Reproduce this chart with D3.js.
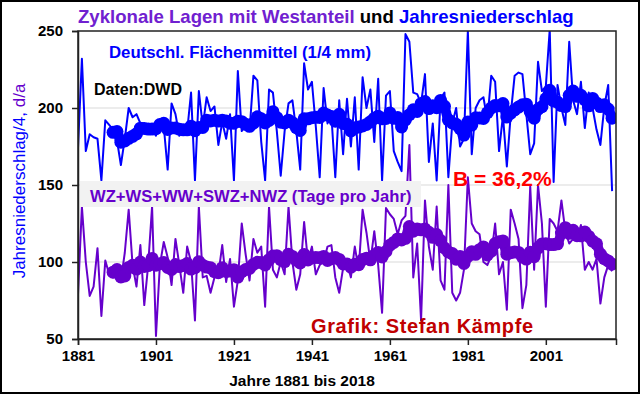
<!DOCTYPE html>
<html lang="de">
<head>
<meta charset="UTF-8">
<title>Zyklonale Lagen mit Westanteil und Jahresniederschlag</title>
<script src="https://d3js.org/d3.v7.min.js"></script>
<style>
    body {
        margin: 0;
        padding: 0;
        background: #fff;
    }
    svg {
        display: block;
        font-family: 'Liberation Sans', Arial, sans-serif;
    }
    .tick text {
        font-size: 15px;
        font-weight: bold;
        fill: #000;
    }
</style>
</head>
<body>
<svg width="640" height="394"></svg>
<script>
// Jahre 1881..2018
const years = d3.range(1881, 2019);

// Deutschland-Flaechenmittel Niederschlag / 4 (mm)
const niederschlag = [
    174, 232, 172, 183, 181, 180, 153, 192, 189, 186,
    179, 163, 180, 200, 194, 196, 190, 190, 185, 186,
    182, 190, 188, 160, 203, 196, 182, 186, 185, 210,
    153, 211, 188, 207, 198, 201, 176, 191, 180, 196,
    153, 224, 185, 190, 185, 221, 218, 178, 153, 212,
    210, 185, 156, 185, 203, 205, 185, 160, 229, 212,
    217, 188, 155, 213, 190, 195, 155, 205, 170, 206,
    175, 207, 160, 220, 200, 212, 178, 219, 153, 208,
    211, 172, 165, 159, 248, 243, 210, 209, 203, 222,
    165, 190, 153, 206, 210, 155, 190, 200, 175, 180,
    250, 170, 200, 205, 207, 192, 221, 217, 172, 195,
    162, 196, 221, 223, 222, 196, 170, 177, 230, 211,
    214, 251, 152, 215, 200, 189, 243, 205, 196, 217,
    187, 210, 200, 186, 176, 201, 215, 146
];

// WZ+WS+WW+SWZ+NWZ, Tage pro Jahr
const westlagen = [
    79, 136, 100, 78, 84, 109, 65, 101, 92, 90,
    96, 88, 106, 134, 98, 84, 111, 72, 98, 136,
    52, 98, 113, 103, 85, 115, 98, 80, 110, 100,
    62, 136, 90, 91, 80, 90, 92, 111, 87, 102,
    71, 88, 125, 105, 88, 115, 106, 110, 71, 136,
    95, 90, 100, 92, 136, 100, 82, 92, 126, 100,
    110, 92, 98, 100, 110, 111, 90, 80, 96, 100,
    90, 110, 95, 134, 119, 100, 120, 98, 67, 135,
    131, 128, 118, 127, 130, 176, 90, 112, 62, 140,
    110, 95, 136, 88, 82, 150, 80, 75, 80, 95,
    155, 125, 120, 118, 100, 98, 104, 125, 92, 100,
    69, 134, 125, 115, 70, 85, 149, 95, 150, 125,
    71, 128, 125, 120, 140, 120, 112, 115, 115, 124,
    95, 100, 95, 102, 73, 90, 98, 94
];

const yTicks = [50, 100, 150, 200, 250];
const gridValues = [100, 150, 200];
const xTicks = [1881, 1901, 1921, 1941, 1961, 1981, 2001];

const blue = "#0000ff";
const purple = "#6600cc";

const svg = d3.select("svg");
const width = +svg.attr("width");
const height = +svg.attr("height");

const plot = { left: 78, right: 616, top: 31, bottom: 339 };

const xScale = d3.scaleLinear()
                 .domain([1881, 2019])
                 .range([plot.left, plot.right]);

const yScale = d3.scaleLinear()
                 .domain([50, 250])
                 .range([plot.bottom, plot.top]);

// gleitendes 10-jaehriges Mittel (wie im Original ab 1890)
function movingAverage(values, n) {
    return values.map((v, i) => i < n - 1 ? null : d3.mean(values.slice(i - n + 1, i + 1)));
}

svg.append("rect")
   .attr("width", width).attr("height", height)
   .attr("fill", "#fff");

svg.append("clipPath").attr("id", "plotclip")
   .append("rect")
   .attr("x", plot.left).attr("y", plot.top)
   .attr("width", plot.right - plot.left).attr("height", plot.bottom - plot.top);

// gridlines
svg.selectAll(".grid")
   .data(gridValues)
   .enter()
   .append("line")
   .attr("x1", plot.left).attr("x2", plot.right)
   .attr("y1", d => yScale(d)).attr("y2", d => yScale(d))
   .attr("stroke", "#d9d9d9")
   .attr("stroke-width", 1);

const lines = svg.append("g").attr("clip-path", "url(#plotclip)");

const rawLine = d3.line()
                  .x((d, i) => xScale(years[i]))
                  .y(d => yScale(d));

const smoothLine = d3.line()
                     .defined(d => d != null)
                     .x((d, i) => xScale(years[i]))
                     .y(d => yScale(d))
                     .curve(d3.curveMonotoneX);

function drawSeries(values, color) {
    lines.append("path")
         .attr("d", rawLine(values))
         .attr("fill", "none")
         .attr("stroke", color)
         .attr("stroke-width", 2)
         .attr("stroke-linejoin", "round");

    const avg = movingAverage(values, 10);
    lines.append("path")
         .attr("d", smoothLine(avg))
         .attr("fill", "none")
         .attr("stroke", color)
         .attr("stroke-width", 10)
         .attr("stroke-linecap", "round")
         .attr("stroke-linejoin", "round");

    lines.selectAll(null)
         .data(avg.map((v, i) => ({ year: years[i], v: v })).filter(d => d.v != null))
         .enter()
         .append("circle")
         .attr("cx", d => xScale(d.year))
         .attr("cy", d => yScale(d.v))
         .attr("r", 6.5)
         .attr("fill", color);
}

drawSeries(niederschlag, blue);
drawSeries(westlagen, purple);

// plot frame
svg.append("rect")
   .attr("x", plot.left).attr("y", plot.top)
   .attr("width", plot.right - plot.left).attr("height", plot.bottom - plot.top)
   .attr("fill", "none")
   .attr("stroke", "#222")
   .attr("stroke-width", 1.5);

// axes
const yAxis = svg.append("g")
   .attr("transform", `translate(${plot.left},0)`)
   .call(d3.axisLeft(yScale).tickValues(yTicks).tickSize(6).tickPadding(9));

const xAxis = svg.append("g")
   .attr("transform", `translate(0,${plot.bottom})`)
   .call(d3.axisBottom(xScale).tickValues(xTicks).tickFormat(d3.format("d")).tickSize(6).tickPadding(5));

[yAxis, xAxis].forEach(a => {
    a.select(".domain").attr("stroke", "#222").attr("stroke-width", 1.5);
    a.selectAll(".tick line").attr("stroke", "#222").attr("stroke-width", 1.5);
});

// label box
svg.append("rect")
   .attr("x", 80).attr("y", 181)
   .attr("width", 341).attr("height", 26)
   .attr("fill", "#f2f2f2");

svg.append("text")
   .attr("x", 90).attr("y", 202)
   .attr("font-size", 16.6).attr("font-weight", "bold")
   .attr("fill", purple)
   .text("WZ+WS+WW+SWZ+NWZ (Tage pro Jahr)");

svg.append("text")
   .attr("x", 109).attr("y", 58)
   .attr("font-size", 16.8).attr("font-weight", "bold")
   .attr("fill", blue)
   .text("Deutschl. Flächenmittel (1/4 mm)");

svg.append("text")
   .attr("x", 94).attr("y", 95)
   .attr("font-size", 16).attr("font-weight", "bold")
   .attr("fill", "#000")
   .text("Daten:DWD");

svg.append("text")
   .attr("x", 453).attr("y", 186)
   .attr("font-size", 21).attr("font-weight", "bold")
   .attr("fill", "#ff0000")
   .text("B = 36,2%");

svg.append("text")
   .attr("x", 311).attr("y", 333)
   .attr("font-size", 20).attr("font-weight", "bold")
   .attr("letter-spacing", 0.6)
   .attr("fill", "#c00000")
   .text("Grafik: Stefan Kämpfe");

// title
const title = svg.append("text")
   .attr("x", 78).attr("y", 23)
   .attr("font-size", 18.6).attr("font-weight", "bold");
title.append("tspan").attr("fill", "#7020d0").text("Zyklonale Lagen mit Westanteil");
title.append("tspan").attr("fill", "#000").text(" und ");
title.append("tspan").attr("fill", blue).text("Jahresniederschlag");

// axis titles
svg.append("text")
   .attr("x", 302).attr("y", 386)
   .attr("text-anchor", "middle")
   .attr("font-size", 15.5).attr("font-weight", "bold")
   .text("Jahre 1881 bis 2018");

const yTitle = svg.append("text")
   .attr("transform", "translate(25,181) rotate(-90)")
   .attr("text-anchor", "middle")
   .attr("font-size", 17);
yTitle.append("tspan").attr("fill", blue).text("Jahresniederschlag/4, ");
yTitle.append("tspan").attr("fill", purple).text("d/a");

// outer frame
svg.append("rect")
   .attr("x", 1).attr("y", 1)
   .attr("width", width - 2).attr("height", height - 2)
   .attr("fill", "none")
   .attr("stroke", "#000")
   .attr("stroke-width", 2);
</script>
</body>
</html>
